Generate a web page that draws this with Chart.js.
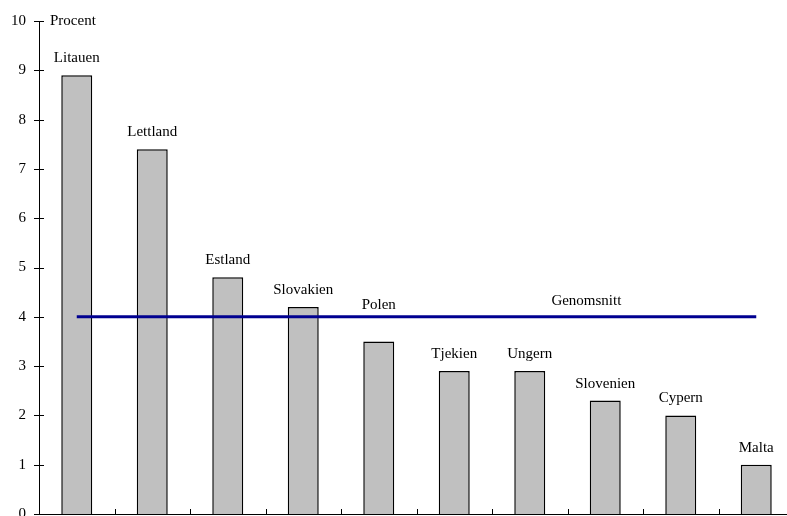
<!DOCTYPE html>
<html><head><meta charset="utf-8">
<script src="https://cdn.jsdelivr.net/npm/chart.js@4/dist/chart.umd.min.js"></script>
<style>html,body{margin:0;padding:0;overflow:hidden;background:#fff}</style>
</head><body>
<canvas id="c" width="800" height="516" style="width:800px;height:516px;display:block"></canvas>
<script>
const categories = ['Litauen','Lettland','Estland','Slovakien','Polen','Tjekien','Ungern','Slovenien','Cypern','Malta'];
const values = [8.9, 7.4, 4.8, 4.2, 3.5, 2.9, 2.9, 2.3, 2.0, 1.0];
const averageValues = [4, 4, 4, 4, 4, 4, 4, 4, 4, 4];
const averageLabel = 'Genomsnitt';
const unitLabel = 'Procent';
const yTickValues = [0, 1, 2, 3, 4, 5, 6, 7, 8, 9, 10];

const FONT = '15px "Liberation Serif", "Times New Roman", serif';

const decor = {
  id: 'decor',
  afterDatasetsDraw(chart) {
    const ctx = chart.ctx;
    const xs = chart.scales.x, ys = chart.scales.y;
    const area = chart.chartArea;
    ctx.save();
    ctx.strokeStyle = '#000';
    ctx.lineWidth = 1;
    yTickValues.forEach(v => {
      const y = Math.round(ys.getPixelForValue(v)) + 0.5;
      ctx.beginPath();
      ctx.moveTo(area.left - 5, y);
      ctx.lineTo(area.left + 5, y);
      ctx.stroke();
    });
    for (let i = 0; i < categories.length; i++) {
      const x = Math.round(xs.getPixelForValue(i + 0.5)) + 0.5;
      ctx.beginPath();
      ctx.moveTo(x, area.bottom);
      ctx.lineTo(x, area.bottom - 5);
      ctx.stroke();
    }
    ctx.font = FONT;
    ctx.fillStyle = '#000';
    ctx.textAlign = 'left';
    ctx.textBaseline = 'middle';
    ctx.fillText(unitLabel, area.left + 11, ys.getPixelForValue(10));
    const lineY = ys.getPixelForValue(averageValues[0]);
    const meta = chart.getDatasetMeta(1);
    ctx.textAlign = 'center';
    ctx.textBaseline = 'alphabetic';
    meta.data.forEach((bar, i) => {
      let base = bar.y - 13;
      if (base > lineY - 4 && base - 11 < lineY + 4) base = lineY - 8;
      ctx.fillText(categories[i], bar.x, base);
    });
    ctx.fillText(averageLabel, xs.getPixelForValue(6.75), lineY - 12);
    ctx.restore();
  }
};

new Chart(document.getElementById('c'), {
  data: {
    labels: categories,
    datasets: [
      {
        type: 'line',
        label: averageLabel,
        data: averageValues,
        borderColor: '#000090',
        borderWidth: 3,
        pointRadius: 0,
        fill: false,
        order: 0
      },
      {
        type: 'bar',
        label: 'Värde',
        data: values,
        backgroundColor: '#c0c0c0',
        borderColor: '#000',
        borderWidth: 1.5,
        barPercentage: 0.41,
        categoryPercentage: 1,
        order: 1
      }
    ]
  },
  options: {
    responsive: false,
    animation: false,
    layout: { padding: { top: 21, bottom: 2, right: 6, left: 0 } },
    plugins: { legend: { display: false }, tooltip: { enabled: false } },
    scales: {
      x: {
        type: 'category',
        offset: true,
        grid: { display: false, drawTicks: false },
        border: { display: true, color: '#000', width: 1 },
        ticks: { display: false },
        afterFit(s) { s.height = 0; s.paddingLeft = 0; s.paddingRight = 0; }
      },
      y: {
        min: 0, max: 10,
        grid: { display: false, drawTicks: false },
        border: { display: true, color: '#000', width: 1 },
        ticks: {
          stepSize: 1,
          padding: 13,
          color: '#000',
          font: { family: '"Liberation Serif", "Times New Roman", serif', size: 15 }
        },
        afterFit(s) { s.width = 39; s.paddingTop = 0; s.paddingBottom = 0; }
      }
    }
  },
  plugins: [decor]
});
</script>
</body></html>
